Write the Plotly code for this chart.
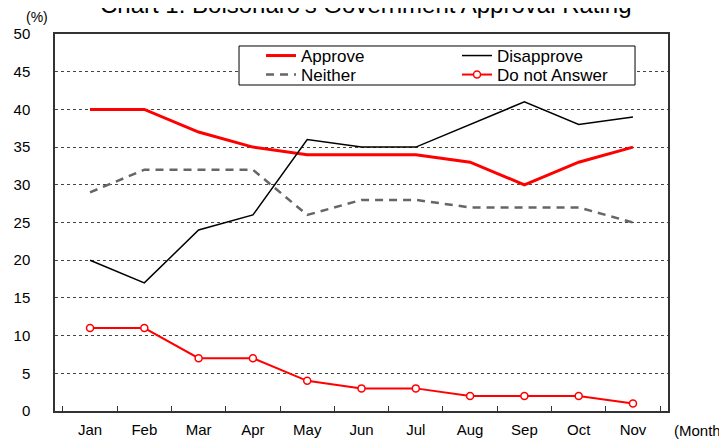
import plotly.graph_objects as go

# Monthly approval survey values (%)
months = ["Jan", "Feb", "Mar", "Apr", "May", "Jun", "Jul", "Aug", "Sep", "Oct", "Nov"]
approve = [40, 40, 37, 35, 34, 34, 34, 33, 30, 33, 35]
disapprove = [20, 17, 24, 26, 36, 35, 35, 38, 41, 38, 39]
neither = [29, 32, 32, 32, 26, 28, 28, 27, 27, 27, 25]
no_answer = [11, 11, 7, 7, 4, 3, 3, 2, 2, 2, 1]
y_ticks = list(range(0, 55, 5))

FONT = "Liberation Sans, Arial, sans-serif"

fig = go.Figure()
fig.add_trace(go.Scatter(
    x=months, y=approve, mode="lines", name="Approve", legend="legend",
    line=dict(color="#ff0000", width=3)
))
fig.add_trace(go.Scatter(
    x=months, y=disapprove, mode="lines", name="Disapprove", legend="legend2",
    line=dict(color="#000000", width=1.5)
))
fig.add_trace(go.Scatter(
    x=months, y=neither, mode="lines", name="Neither", legend="legend3",
    line=dict(color="#666666", width=2.5, dash="8px,6px")
))
fig.add_trace(go.Scatter(
    x=months, y=no_answer, mode="lines+markers", name="Do not Answer",
    legend="legend4",
    line=dict(color="#ff0000", width=2),
    marker=dict(symbol="circle", size=7, color="white",
                line=dict(color="#ff0000", width=1.5))
))


def legend_box(x, y):
    # one entry per legend so the 2x2 grid sits like the original
    return dict(x=x, y=y, xanchor="left", yanchor="top",
                bgcolor="rgba(0,0,0,0)", borderwidth=0,
                font=dict(size=17, family=FONT), itemwidth=30)


# the page body adds an 8px margin, so the figure is 8px smaller
fig.update_layout(
    width=719, height=432,
    margin=dict(l=47, r=59, t=26, b=29, autoexpand=False),
    paper_bgcolor="white", plot_bgcolor="white",
    font=dict(family=FONT, size=15, color="black"),
    hovermode=False,
    showlegend=True,
    legend=legend_box(0.3361, 0.9894),
    legend2=legend_box(0.6558, 0.9894),
    legend3=legend_box(0.3361, 0.939),
    legend4=legend_box(0.6558, 0.939),
    xaxis=dict(
        type="category", showgrid=False, automargin=False,
        showline=True, linecolor="#333333", linewidth=1.5, mirror=True,
        ticks="inside", ticklen=5, tickcolor="#333333",
        tickson="boundaries", ticklabelstandoff=4,
        tickfont=dict(size=15)
    ),
    yaxis=dict(
        range=[0, 50], tickvals=y_ticks, automargin=False,
        showgrid=True, gridcolor="#444444", griddash="dot", gridwidth=1,
        showline=True, linecolor="#333333", linewidth=1.5, mirror=True,
        ticks="", ticklabelstandoff=20, zeroline=False,
        tickfont=dict(size=15)
    ),
    shapes=[
        # legend frame
        dict(type="rect", xref="paper", yref="paper",
             x0=0.3002, x1=0.9462, y0=0.8647, y1=0.9682,
             line=dict(color="black", width=1), fillcolor="white",
             layer="above"),
    ],
    annotations=[
        dict(text="Chart 1: Bolsonaro's Government Approval Rating",
             xref="paper", yref="paper", x=0.5073, y=1.0371,
             xanchor="center", yanchor="bottom", showarrow=False,
             font=dict(size=24)),
        dict(text="(%)", xref="paper", yref="paper", x=-0.0294, y=1.0451,
             xanchor="center", yanchor="middle", showarrow=False,
             font=dict(size=14)),
        dict(text="(Month)", xref="paper", yref="paper", x=1.0065, y=-0.0504,
             xanchor="left", yanchor="middle", showarrow=False,
             font=dict(size=15)),
    ],
)

fig.write_html("out.html")
